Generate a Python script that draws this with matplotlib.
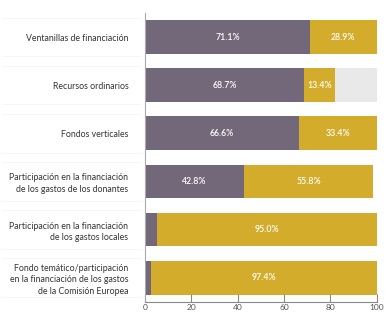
import matplotlib
matplotlib.use('Agg')
import matplotlib.pyplot as plt
import matplotlib.transforms as mtransforms

# categorias (de arriba a abajo)
categorias = [
    'Ventanillas de financiación',
    'Recursos ordinarios',
    'Fondos verticales',
    'Participación en la financiación\nde los gastos de los donantes',
    'Participación en la financiación\nde los gastos locales',
    'Fondo temático/participación\nen la financiación de los gastos\nde la Comisión Europea',
]
valores_morado = [71.1, 68.7, 66.6, 42.8, 5.0, 2.6]
valores_oro = [28.9, 13.4, 33.4, 55.8, 95.0, 97.4]
valores_gris = [0.0, 17.9, 0.0, 0.0, 0.0, 0.0]
mostrar_morado = [True, True, True, True, False, False]
ticks_x = [0, 20, 40, 60, 80, 100]

c_morado = '#736879'
c_oro = '#D3AC2C'
c_gris = '#E9E9EA'

plt.rcParams['font.family'] = ['Lato', 'DejaVu Sans']

fig = plt.figure(figsize=(3.85, 3.16), dpi=100)
ax = fig.add_axes([0.377, 0.045, 0.601, 0.914])

y = list(range(len(categorias)))
alto = 0.70
izq_oro = valores_morado
izq_gris = [m + o for m, o in zip(valores_morado, valores_oro)]

ax.barh(y, valores_morado, height=alto, color=c_morado)
ax.barh(y, valores_oro, left=izq_oro, height=alto, color=c_oro)
ax.barh(y, valores_gris, left=izq_gris, height=alto, color=c_gris)

# etiquetas de porcentaje
for i in y:
    if mostrar_morado[i]:
        ax.text(valores_morado[i] / 2, i, f'{valores_morado[i]:.1f}%',
                ha='center', va='center', color='white', fontsize=6.3, fontweight='semibold')
    ax.text(valores_morado[i] + valores_oro[i] / 2, i, f'{valores_oro[i]:.1f}%',
            ha='center', va='center', color='white', fontsize=6.3, fontweight='semibold')

# lineas tenues en la zona de etiquetas
trans = mtransforms.blended_transform_factory(ax.transAxes, ax.transData)
for i in y:
    for yy in (i - alto / 2 - 0.05, i + alto / 2 + 0.05):
        ax.plot([-0.62, -0.02], [yy, yy], transform=trans, color='#F5F5F5',
                lw=0.6, clip_on=False, zorder=0)

ax.set_xlim(0, 100)
ax.set_ylim(len(categorias) - 0.5, -0.5)
ax.set_yticks(y)
ax.set_yticklabels(categorias, fontsize=6.3, color='#333333', linespacing=1.35)
ax.tick_params(axis='y', length=0, pad=12)
ax.set_xticks(ticks_x)
ax.set_xticklabels([str(t) for t in ticks_x], fontsize=6, color='#555555')
ax.tick_params(axis='x', direction='in', length=6, width=0.8, color='#888888', pad=1.5)

for s in ('top', 'right'):
    ax.spines[s].set_visible(False)
ax.spines['left'].set_color('#AAAAAA')
ax.spines['left'].set_linewidth(0.8)
ax.spines['bottom'].set_color('#888888')
ax.spines['bottom'].set_linewidth(0.8)

fig.savefig('out.png', dpi=100)
